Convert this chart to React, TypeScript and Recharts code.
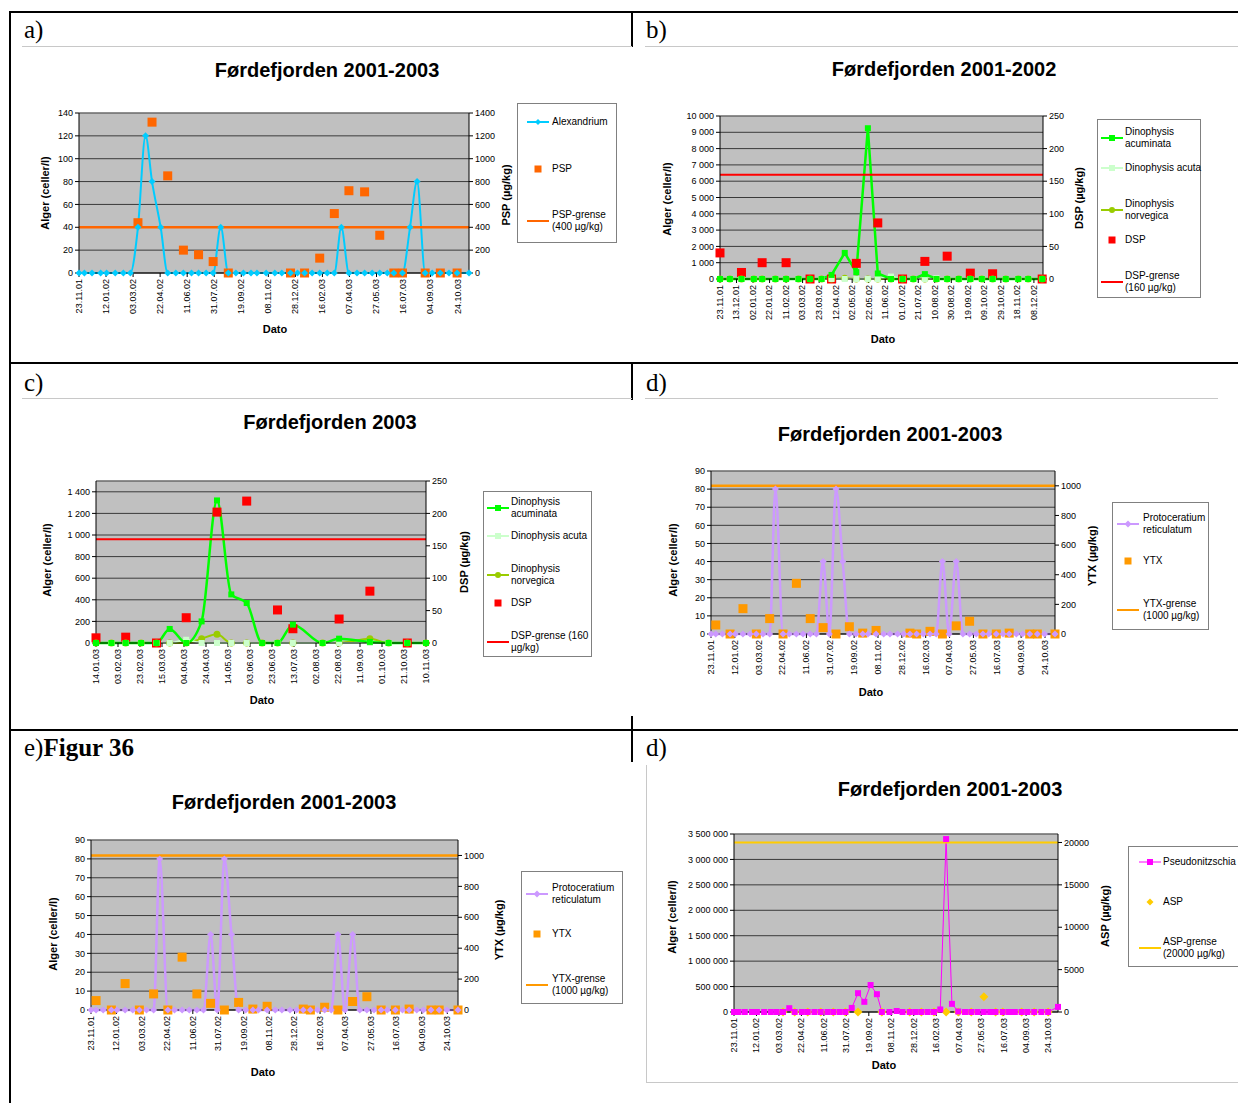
import { ComposedChart, Line, Scatter, XAxis, YAxis, CartesianGrid, ReferenceLine, Legend } from "recharts";

const SANS = '"Liberation Sans", Arial, sans-serif';
const SERIF = '"Liberation Serif", "Times New Roman", serif';

// sampling dates 2001-2003 (panels a, d, e, f)
const datesA = ["23.11.01", "03.12.01", "17.12.01", "02.01.02", "13.01.02", "29.01.02", "13.02.02", "26.02.02", "12.03.02", "26.03.02",
  "07.04.02", "23.04.02", "06.05.02", "21.05.02", "04.06.02", "19.06.02", "02.07.02", "16.07.02", "29.07.02", "12.08.02",
  "26.08.02", "09.09.02", "23.09.02", "07.10.02", "18.10.02", "04.11.02", "20.11.02", "03.12.02", "19.12.02", "01.01.03",
  "14.01.03", "28.01.03", "11.02.03", "25.02.03", "10.03.03", "23.03.03", "06.04.03", "21.04.03", "05.05.03", "19.05.03",
  "02.06.03", "16.06.03", "28.06.03", "14.07.03", "28.07.03", "10.08.03", "25.08.03", "07.09.03", "22.09.03", "08.10.03",
  "23.10.03", "14.11.03"];
const ticks2001 = ["23.11.01", "12.01.02", "03.03.02", "22.04.02", "11.06.02", "31.07.02", "19.09.02", "08.11.02", "28.12.02",
  "16.02.03", "07.04.03", "27.05.03", "16.07.03", "04.09.03", "24.10.03"];

// a) Alexandrium / PSP
const alexandrium = [0, 0, 0, 0, 0, 0, 0, 0, 40, 120, 80, 40, 0, 0, 0, 0, 0, 0, 0, 40, 0, 0, 0, 0, 0, 0, 0, 0, 0, 0,
  0, 0, 0, 0, 0, 40, 0, 0, 0, 0, 0, 0, 0, 0, 40, 80, 0, 0, 0, 0, 0, 0];
const pspDates = ["12.03.02", "07.04.02", "06.05.02", "04.06.02", "02.07.02", "29.07.02", "26.08.02", "19.12.02", "14.01.03", "11.02.03",
  "10.03.03", "06.04.03", "05.05.03", "02.06.03", "28.06.03", "14.07.03", "25.08.03", "22.09.03", "23.10.03"];
const psp = [440, 1320, 850, 200, 160, 100, 0, 0, 0, 130, 520, 720, 710, 330, 0, 0, 0, 0, 0];
const pspLimit = 400;

// b) Dinophysis 2001-2002
const datesB = ["23.11.01", "05.12.01", "19.12.01", "03.01.02", "13.01.02", "29.01.02", "11.02.02", "26.02.02", "12.03.02", "26.03.02",
  "07.04.02", "23.04.02", "07.05.02", "21.05.02", "02.06.02", "18.06.02", "02.07.02", "15.07.02", "29.07.02", "12.08.02",
  "25.08.02", "08.09.02", "22.09.02", "06.10.02", "19.10.02", "04.11.02", "19.11.02", "01.12.02", "18.12.02"];
const ticksB = ["23.11.01", "13.12.01", "02.01.02", "22.01.02", "11.02.02", "03.03.02", "23.03.02", "12.04.02", "02.05.02", "22.05.02",
  "11.06.02", "01.07.02", "21.07.02", "10.08.02", "30.08.02", "19.09.02", "09.10.02", "29.10.02", "18.11.02", "08.12.02"];
const acuminataB = [0, 0, 0, 0, 0, 0, 0, 0, 0, 0, 250, 1600, 420, 9250, 340, 0, 0, 0, 300, 0, 0, 0, 0, 0, 0, 0, 0, 0, 0];
const acutaB = [0, 0, 0, 0, 0, 0, 0, 0, 0, 0, 0, 0, 0, 0, 0, 150, 0, 0, 0, 50, 0, 0, 0, 0, 0, 0, 0, 0, 0];
const norvegicaB = [0, 0, 0, 0, 0, 0, 0, 0, 0, 0, 0, 50, 0, 0, 0, 0, 0, 0, 0, 0, 0, 0, 0, 0, 0, 0, 0, 0, 0];
const dspDatesB = ["23.11.01", "19.12.01", "13.01.02", "11.02.02", "12.03.02", "07.04.02", "07.05.02", "02.06.02", "02.07.02",
  "29.07.02", "25.08.02", "22.09.02", "19.10.02", "18.12.02"];
const dspB = [40, 10, 25, 25, 0, 0, 24, 86, 0, 27, 35, 9, 8, 0];
const dspLimit = 160;

// c) Dinophysis 2003
const datesC = ["14.01.03", "28.01.03", "10.02.03", "24.02.03", "10.03.03", "22.03.03", "06.04.03", "20.04.03", "04.05.03", "17.05.03",
  "31.05.03", "14.06.03", "28.06.03", "12.07.03", "08.08.03", "23.08.03", "20.09.03", "07.10.03", "24.10.03", "10.11.03"];
const ticksC = ["14.01.03", "03.02.03", "23.02.03", "15.03.03", "04.04.03", "24.04.03", "14.05.03", "03.06.03", "23.06.03", "13.07.03",
  "02.08.03", "22.08.03", "11.09.03", "01.10.03", "21.10.03", "10.11.03"];
const acuminataC = [0, 0, 0, 0, 0, 130, 0, 200, 1320, 450, 370, 0, 0, 170, 0, 40, 10, 0, 0, 0];
const acutaC = [0, 0, 0, 0, 0, 0, 30, 0, 0, 0, 0, 0, 0, 0, 0, 0, 0, 0, 0, 0];
const norvegicaC = [0, 0, 0, 0, 0, 0, 0, 40, 80, 0, 0, 0, 0, 0, 0, 0, 40, 0, 0, 0];
const dspDatesC = ["14.01.03", "10.02.03", "10.03.03", "06.04.03", "04.05.03", "31.05.03", "28.06.03", "12.07.03", "23.08.03", "20.09.03", "24.10.03"];
const dspC = [8, 9, 0, 39, 202, 219, 51, 22, 37, 80, 0];

// d) / e) Protoceratium / YTX
const protoceratium = [0, 0, 0, 0, 0, 0, 0, 0, 0, 0, 80, 0, 0, 0, 0, 0, 0, 40, 0, 80, 40, 0, 0, 0, 0, 0, 0, 0, 0, 0,
  0, 0, 0, 0, 0, 40, 0, 40, 0, 0, 0, 0, 0, 0, 0, 0, 0, 0, 0, 0, 0, 0];
const ytxDates = ["03.12.01", "02.01.02", "29.01.02", "26.02.02", "26.03.02", "23.04.02", "21.05.02", "19.06.02", "16.07.02", "12.08.02",
  "09.09.02", "07.10.02", "04.11.02", "14.01.03", "28.01.03", "25.02.03", "23.03.03", "21.04.03", "19.05.03", "16.06.03",
  "14.07.03", "10.08.03", "22.09.03", "08.10.03", "14.11.03"];
const ytx = [61, 0, 171, 0, 104, 0, 342, 104, 43, 0, 49, 6, 24, 6, 0, 18, 0, 55, 86, 0, 0, 6, 0, 0, 0];
const ytxLimit = 1000;

// f) Pseudonitzschia / ASP
const pseudonitzschia = [0, 0, 0, 0, 0, 0, 0, 0, 0, 75000, 0, 0, 0, 0, 0, 0, 0, 0, 0, 80000,
  370000, 200000, 530000, 350000, 0, 0, 20000, 0, 0, 0, 0, 0, 0, 50000, 3400000, 160000, 10000, 0, 0, 0,
  0, 0, 0, 0, 0, 0, 0, 0, 0, 0, 0, 100000];
const aspDates = ["12.03.02", "07.04.02", "06.05.02", "04.06.02", "02.07.02", "29.07.02", "26.08.02", "18.10.02", "19.12.02", "14.01.03",
  "11.02.03", "10.03.03", "06.04.03", "05.05.03", "02.06.03", "28.06.03", "14.07.03", "25.08.03", "22.09.03", "23.10.03"];
const asp = [0, 0, 0, 0, 0, 0, 0, 0, 0, 0, 0, 0, 0, 0, 1800, 0, 0, 0, 0, 0];
const aspLimit = 20000;

const YW = 40;
const XH = 50;

const toDay = (s: string) => {
  const [d, m, y] = s.split(".").map(Number);
  return Date.UTC(2000 + y, m - 1, d) / 86400000;
};
const fmtDate = (n: number) => {
  const dt = new Date(n * 86400000);
  const p = (v: number) => String(v).padStart(2, "0");
  return `${p(dt.getUTCDate())}.${p(dt.getUTCMonth() + 1)}.${p(dt.getUTCFullYear() % 100)}`;
};
// thousands with a no-break space so the tick text doesn't wrap
const sp = (v: number) => String(v).replace(/\B(?=(\d{3})+(?!\d))/g, "\u00A0");
const plain = (v: number) => String(v);
const pts = (dates: string[], vals: number[]) => dates.map((d, i) => ({ x: toDay(d), y: vals[i] }));
const steps = (max: number, step: number) => Array.from({ length: Math.floor(max / step) + 1 }, (_, i) => i * step);

type Kind = "diamond" | "square" | "circle";

function Marker({ kind, cx, cy, color, s }: { kind: Kind; cx: number; cy: number; color: string; s: number }) {
  if (kind === "diamond") return <path d={`M${cx},${cy - s}L${cx + s},${cy}L${cx},${cy + s}L${cx - s},${cy}Z`} fill={color} />;
  if (kind === "circle") return <circle cx={cx} cy={cy} r={s} fill={color} />;
  return <rect x={cx - s} y={cy - s} width={2 * s} height={2 * s} fill={color} />;
}
const dotOf = (kind: Kind, color: string, s: number) => (p: any) =>
  <Marker key={`m${p.index}`} kind={kind} cx={p.cx} cy={p.cy} color={color} s={s} />;
const shapeOf = (kind: Kind, color: string, s: number) => (p: any) =>
  <Marker kind={kind} cx={p.cx} cy={p.cy} color={color} s={s} />;

const DateTick = (p: any) => {
  const { x, y, payload } = p;
  return (
    <text x={x} y={y} transform={`rotate(-90 ${x} ${y})`} textAnchor="end" dy="0.32em" fontSize={9} fontFamily={SANS} fill="#000">
      {fmtDate(payload.value)}
    </text>
  );
};

type LegItem = { label: string; y: number; color: string; line?: number; marker?: Kind; ms?: number };
type Leg = { left: number; top: number; w: number; h: number; symX: number; textX: number; items: LegItem[] };

function LegendBox({ leg }: { leg: Leg }) {
  return (
    <div style={{ position: "relative", width: leg.w, height: leg.h, border: "1px solid #808080", background: "#fff",
      boxSizing: "border-box", fontFamily: SANS, fontSize: 10, color: "#000" }}>
      {leg.items.map((it) => {
        const n = it.label.split("\n").length;
        return (
          <div key={it.label}>
            <svg width={22} height={12} style={{ position: "absolute", left: leg.symX, top: it.y - 6 }}>
              {it.line ? <line x1={0} x2={22} y1={6} y2={6} stroke={it.color} strokeWidth={it.line} /> : null}
              {it.marker ? <Marker kind={it.marker} cx={11} cy={6} color={it.color} s={it.ms ?? 3} /> : null}
            </svg>
            <div style={{ position: "absolute", left: leg.textX, top: it.y - n * 6, lineHeight: "12px", whiteSpace: "pre" }}>{it.label}</div>
          </div>
        );
      })}
    </div>
  );
}

type PanelProps = {
  box: number[]; plot: number[]; xFrom: string; xTo: string; xTicks: string[];
  left: { max: number; ticks: number[] }; right: { max: number; ticks: number[] }; leg: Leg; children: any;
};

function Panel({ box, plot, xFrom, xTo, xTicks, left, right, leg, children }: PanelProps) {
  const [bl, bt, bw, bh] = box;
  const [x0, y0, x1, y1] = plot;
  const margin = { left: x0 - bl - YW, top: y0 - bt, right: bl + bw - x1 - YW, bottom: bt + bh - y1 - XH };
  const tickStyle = { fontSize: 9, fill: "#000", fontFamily: SANS };
  return (
    <div style={{ position: "absolute", left: bl, top: bt }}>
      <ComposedChart width={bw} height={bh} margin={margin}>
        <CartesianGrid yAxisId="l" vertical={false} stroke="#3a3a3a" fill="#C0C0C0" fillOpacity={1} />
        <XAxis dataKey="x" type="number" domain={[toDay(xFrom), toDay(xTo)]} ticks={xTicks.map(toDay)} interval={0}
          height={XH} tick={<DateTick />} tickSize={4} stroke="#000" />
        <YAxis yAxisId="l" domain={[0, left.max]} ticks={left.ticks} interval={0} width={YW}
          tickSize={4} tickFormatter={sp} tick={tickStyle} stroke="#000" />
        <YAxis yAxisId="r" orientation="right" domain={[0, right.max]} ticks={right.ticks} interval={0}
          width={YW} tickSize={4} tickFormatter={plain} tick={tickStyle} stroke="#000" />
        <ReferenceLine yAxisId="l" y={left.max} stroke="#808080" />
        {children}
        <Legend layout="vertical" align="center" verticalAlign="middle"
          wrapperStyle={{ left: leg.left, top: leg.top, width: leg.w, height: leg.h }}
          content={() => <LegendBox leg={leg} />} />
      </ComposedChart>
    </div>
  );
}

function T({ x, y, children, size = 11, rot = false }: { x: number; y: number; children: any; size?: number; rot?: boolean }) {
  return (
    <div style={{ position: "absolute", left: x, top: y, transform: `translate(-50%, -50%)${rot ? " rotate(-90deg)" : ""}`,
      fontSize: size, fontWeight: 700, fontFamily: SANS, whiteSpace: "nowrap", lineHeight: 1, color: "#000" }}>
      {children}
    </div>
  );
}
function Rule({ x, y, w, h, c }: { x: number; y: number; w: number; h: number; c: string }) {
  return <div style={{ position: "absolute", left: x, top: y, width: w, height: h, background: c }} />;
}
function Tag({ x, y, children }: { x: number; y: number; children: any }) {
  return <div style={{ position: "absolute", left: x, top: y, fontFamily: SERIF, fontSize: 25, lineHeight: 1, color: "#000", whiteSpace: "nowrap" }}>{children}</div>;
}

const dinoLegend = (grense: string, ys: number[]) => [
  { label: "Dinophysis\nacuminata", y: ys[0], color: "#00FF00", line: 2, marker: "square" as Kind, ms: 3 },
  { label: "Dinophysis acuta", y: ys[1], color: "#CCFFCC", line: 2, marker: "square" as Kind, ms: 3 },
  { label: "Dinophysis\nnorvegica", y: ys[2], color: "#99CC00", line: 2, marker: "circle" as Kind, ms: 3 },
  { label: "DSP", y: ys[3], color: "#FF0000", marker: "square" as Kind, ms: 3.5 },
  { label: grense, y: ys[4], color: "#FF0000", line: 2 },
];
const protoLegend = (ys: number[]) => [
  { label: "Protoceratium\nreticulatum", y: ys[0], color: "#CC99FF", line: 2, marker: "diamond" as Kind, ms: 3.5 },
  { label: "YTX", y: ys[1], color: "#FF9900", marker: "square" as Kind, ms: 3.5 },
  { label: "YTX-grense\n(1000 µg/kg)", y: ys[2], color: "#FF9900", line: 2 },
];

function dinoSeries(dates: string[], acu: number[], acut: number[], norv: number[], dDates: string[], dsp: number[], smooth: boolean) {
  const type = smooth ? "monotone" : "linear";
  return [
    <Line key="nv" yAxisId="l" data={pts(dates, norv)} dataKey="y" type={type} stroke="#99CC00" strokeWidth={2}
      dot={dotOf("circle", "#99CC00", 3.5)} isAnimationActive={false} />,
    <Line key="at" yAxisId="l" data={pts(dates, acut)} dataKey="y" type={type} stroke="#CCFFCC" strokeWidth={2}
      dot={dotOf("square", "#CCFFCC", 3)} isAnimationActive={false} />,
    <Line key="am" yAxisId="l" data={pts(dates, acu)} dataKey="y" type={type} stroke="#00FF00" strokeWidth={2.5}
      dot={dotOf("square", "#00FF00", 3)} isAnimationActive={false} />,
    <ReferenceLine key="lim" yAxisId="r" y={dspLimit} stroke="#FF0000" strokeWidth={2} />,
    <Scatter key="dsp" yAxisId="r" data={pts(dDates, dsp)} dataKey="y" shape={shapeOf("square", "#FF0000", 4.5)} isAnimationActive={false} />,
  ];
}
function protoSeries() {
  return [
    <Line key="pr" yAxisId="l" data={pts(datesA, protoceratium)} dataKey="y" type="monotone" stroke="#CC99FF" strokeWidth={2.5}
      dot={dotOf("diamond", "#CC99FF", 3.5)} isAnimationActive={false} />,
    <ReferenceLine key="lim" yAxisId="r" y={ytxLimit} stroke="#FF9900" strokeWidth={2.5} />,
    <Scatter key="ytx" yAxisId="r" data={pts(ytxDates, ytx)} dataKey="y" shape={shapeOf("square", "#FF9900", 4.5)} isAnimationActive={false} />,
  ];
}

export default function App() {
  return (
    <div style={{ position: "absolute", left: 0, top: 0, width: 1238, height: 1103, overflow: "hidden", background: "#fff" }}>
      {/* a) */}
      <Panel box={[12, 48, 618, 313]} plot={[79, 113, 469, 273]} xFrom="23.11.01" xTo="14.11.03" xTicks={ticks2001}
        left={{ max: 140, ticks: steps(140, 20) }} right={{ max: 1400, ticks: steps(1400, 200) }}
        leg={{ left: 505, top: 55, w: 100, h: 140, symX: 9, textX: 34, items: [
          { label: "Alexandrium", y: 18, color: "#00CCFF", line: 2, marker: "diamond", ms: 3 },
          { label: "PSP", y: 65, color: "#FF6600", marker: "square", ms: 3.5 },
          { label: "PSP-grense\n(400 µg/kg)", y: 117, color: "#FF6600", line: 2 },
        ] }}>
        <Line yAxisId="l" data={pts(datesA, alexandrium)} dataKey="y" type="monotone" stroke="#00CCFF" strokeWidth={2}
          dot={dotOf("diamond", "#00CCFF", 3.5)} isAnimationActive={false} />
        <ReferenceLine yAxisId="r" y={pspLimit} stroke="#FF6600" strokeWidth={2.5} />
        <Scatter yAxisId="r" data={pts(pspDates, psp)} dataKey="y" shape={shapeOf("square", "#FF6600", 4.5)} isAnimationActive={false} />
      </Panel>

      {/* b) */}
      <Panel box={[634, 48, 604, 313]} plot={[720, 116, 1043, 279]} xFrom="23.11.01" xTo="19.12.02" xTicks={ticksB}
        left={{ max: 10000, ticks: steps(10000, 1000) }} right={{ max: 250, ticks: steps(250, 50) }}
        leg={{ left: 463, top: 71, w: 104, h: 179, symX: 3, textX: 27, items: dinoLegend("DSP-grense\n(160 µg/kg)", [18, 48, 90, 120, 162]) }}>
        {dinoSeries(datesB, acuminataB, acutaB, norvegicaB, dspDatesB, dspB, false)}
      </Panel>

      {/* c) */}
      <Panel box={[12, 400, 618, 328]} plot={[96, 481, 426, 643]} xFrom="14.01.03" xTo="10.11.03" xTicks={ticksC}
        left={{ max: 1500, ticks: steps(1400, 200) }} right={{ max: 250, ticks: steps(250, 50) }}
        leg={{ left: 471, top: 91, w: 109, h: 166, symX: 3, textX: 27, items: dinoLegend("DSP-grense (160\nµg/kg)", [16, 44, 83, 111, 150]) }}>
        {dinoSeries(datesC, acuminataC, acutaC, norvegicaC, dspDatesC, dspC, true)}
      </Panel>

      {/* d) */}
      <Panel box={[634, 400, 604, 328]} plot={[711, 471, 1055, 634]} xFrom="23.11.01" xTo="14.11.03" xTicks={ticks2001}
        left={{ max: 90, ticks: steps(90, 10) }} right={{ max: 1100, ticks: steps(1000, 200) }}
        leg={{ left: 478, top: 102, w: 97, h: 128, symX: 4, textX: 30, items: protoLegend([21, 58, 107]) }}>
        {protoSeries()}
      </Panel>

      {/* e) */}
      <Panel box={[12, 765, 618, 336]} plot={[91, 840, 458, 1010]} xFrom="23.11.01" xTo="14.11.03" xTicks={ticks2001}
        left={{ max: 90, ticks: steps(90, 10) }} right={{ max: 1100, ticks: steps(1000, 200) }}
        leg={{ left: 509, top: 106, w: 102, h: 133, symX: 4, textX: 30, items: protoLegend([22, 62, 113]) }}>
        {protoSeries()}
      </Panel>

      {/* f) */}
      <Panel box={[647, 765, 591, 316]} plot={[734, 834, 1058, 1012]} xFrom="23.11.01" xTo="14.11.03" xTicks={ticks2001}
        left={{ max: 3500000, ticks: steps(3500000, 500000) }} right={{ max: 21000, ticks: steps(20000, 5000) }}
        leg={{ left: 481, top: 81, w: 120, h: 121, symX: 10, textX: 34, items: [
          { label: "Pseudonitzschia", y: 15, color: "#FF00FF", line: 1, marker: "square", ms: 3 },
          { label: "ASP", y: 55, color: "#FFCC00", marker: "diamond", ms: 3.5 },
          { label: "ASP-grense\n(20000 µg/kg)", y: 101, color: "#FFCC00", line: 2 },
        ] }}>
        <Line yAxisId="l" data={pts(datesA, pseudonitzschia)} dataKey="y" type="linear" stroke="#FF00FF" strokeWidth={1}
          dot={dotOf("square", "#FF00FF", 3)} isAnimationActive={false} />
        <ReferenceLine yAxisId="r" y={aspLimit} stroke="#FFCC00" strokeWidth={2} />
        <Scatter yAxisId="r" data={pts(aspDates, asp)} dataKey="y" shape={shapeOf("diamond", "#FFCC00", 4.5)} isAnimationActive={false} />
      </Panel>

      {/* titles and axis labels */}
      <T x={327} y={70} size={20}>Førdefjorden 2001-2003</T>
      <T x={944} y={69} size={20}>Førdefjorden 2001-2002</T>
      <T x={330} y={422} size={20}>Førdefjorden 2003</T>
      <T x={890} y={434} size={20}>Førdefjorden 2001-2003</T>
      <T x={284} y={802} size={20}>Førdefjorden 2001-2003</T>
      <T x={950} y={789} size={20}>Førdefjorden 2001-2003</T>

      <T x={45} y={193} rot>Alger  (celler/l)</T>
      <T x={667} y={199} rot>Alger (celler/l)</T>
      <T x={47} y={560} rot>Alger (celler/l)</T>
      <T x={673} y={560} rot>Alger (celler/l)</T>
      <T x={53} y={934} rot>Alger (celler/l)</T>
      <T x={672} y={917} rot>Alger  (celler/l)</T>

      <T x={506} y={195} rot>PSP (µg/kg)</T>
      <T x={1079} y={198} rot>DSP (µg/kg)</T>
      <T x={464} y={562} rot>DSP (µg/kg)</T>
      <T x={1092} y={556} rot>YTX (µg/kg)</T>
      <T x={499} y={930} rot>YTX (µg/kg)</T>
      <T x={1105} y={916} rot>ASP (µg/kg)</T>

      <T x={275} y={329}>Dato</T>
      <T x={883} y={339}>Dato</T>
      <T x={262} y={700}>Dato</T>
      <T x={871} y={692}>Dato</T>
      <T x={263} y={1072}>Dato</T>
      <T x={884} y={1065}>Dato</T>

      {/* page frame */}
      <Rule x={10} y={11} w={1228} h={2} c="#000" />
      <Rule x={9} y={11} w={2} h={1092} c="#000" />
      <Rule x={10} y={362} w={1228} h={2} c="#000" />
      <Rule x={10} y={729} w={1228} h={2} c="#000" />
      <Rule x={631} y={11} w={2} h={36} c="#000" />
      <Rule x={631} y={362} w={2} h={38} c="#000" />
      <Rule x={631} y={716} w={2} h={46} c="#000" />
      <Rule x={22} y={46} w={610} h={1} c="#c8c8c8" />
      <Rule x={645} y={46} w={593} h={1} c="#c8c8c8" />
      <Rule x={22} y={398} w={610} h={1} c="#c8c8c8" />
      <Rule x={645} y={398} w={573} h={1} c="#c8c8c8" />
      <Rule x={646} y={765} w={1} h={317} c="#c8c8c8" />
      <Rule x={646} y={1082} w={592} h={1} c="#c8c8c8" />

      <Tag x={24} y={17}>a)</Tag>
      <Tag x={646} y={17}>b)</Tag>
      <Tag x={24} y={370}>c)</Tag>
      <Tag x={646} y={370}>d)</Tag>
      <Tag x={24} y={735}>e)<b>Figur 36</b></Tag>
      <Tag x={646} y={735}>d)</Tag>
    </div>
  );
}
